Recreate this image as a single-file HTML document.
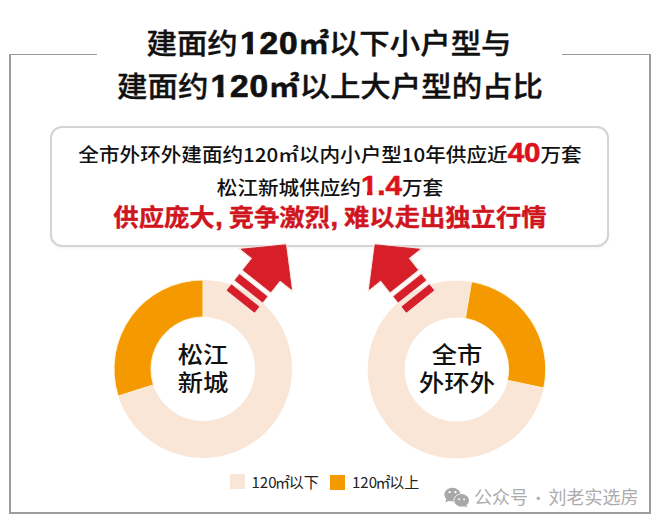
<!DOCTYPE html>
<html lang="zh-CN">
<head>
<meta charset="utf-8">
<style>
html,body{margin:0;padding:0;background:#fff;}
body{width:660px;height:524px;overflow:hidden;position:relative;font-family:"Liberation Sans","Noto Sans CJK SC",sans-serif;}
.abs{position:absolute;}
.ln{position:absolute;background:#9d9d9d;}
.t{position:absolute;left:0;width:660px;text-align:center;white-space:nowrap;}
.title{font-family:"Noto Sans CJK SC",sans-serif;font-weight:500;font-size:28.2px;line-height:30px;color:#111;-webkit-text-stroke:0.35px #111;transform:scaleX(1.08);transform-origin:330px 0;}
.title .n{font-family:"Liberation Sans",sans-serif;font-weight:bold;font-size:31px;letter-spacing:0.8px;-webkit-text-stroke:0.7px #111;margin-left:2px;}
.title .m{font-weight:700;}
.box{position:absolute;left:49.5px;top:125.5px;width:555.8px;height:117.7px;border:2.5px solid #d4d4d4;border-radius:12px;background:#fff;box-shadow:0 1px 3px rgba(0,0,0,0.05);}
.b1{font-family:"Noto Sans CJK SC",sans-serif;font-weight:500;font-size:19.2px;line-height:20px;color:#111;transform:scaleX(1.073);transform-origin:330px 0;}
.red{color:#dc121c;}
.rb{font-family:"Liberation Sans",sans-serif;font-weight:bold;font-size:27.5px;-webkit-text-stroke:0.6px #dc121c;line-height:10px;}
.b3{font-family:"Noto Sans CJK SC",sans-serif;font-weight:700;-webkit-text-stroke:0.35px #cf1520;font-size:23.5px;line-height:25px;color:#cf1520;transform:scaleX(1.078);transform-origin:330px 0;}
.ctr{font-family:"Noto Sans CJK SC",sans-serif;font-weight:500;font-size:22.2px;line-height:28.7px;color:#111;text-align:center;white-space:nowrap;transform:scaleX(1.14);}
.leg{font-family:"Noto Sans CJK SC",sans-serif;font-size:15px;line-height:15px;color:#222;white-space:nowrap;}
.wm{font-family:"Noto Sans CJK SC",sans-serif;font-size:18px;line-height:18px;color:#acacac;white-space:nowrap;}
.cm{display:inline-block;width:13px;text-align:left;text-indent:0.5px;font-family:"Liberation Sans",sans-serif;font-weight:bold;font-size:25px;-webkit-text-stroke:0.6px #cf1520;}
.lm{margin-left:-1.5px;margin-right:-1.2px;position:relative;top:-0.5px;}
.one{display:inline-block;line-height:1em;margin-top:-0.4em;clip-path:polygon(0 0,100% 0,100% 0.70em,0.39em 0.70em,0.39em 100%,0.205em 100%,0.205em 0.70em,0 0.70em);}
</style>
</head>
<body>
<!-- frame -->
<div class="ln" style="left:9.2px;top:53.7px;width:88.3px;height:1.5px;"></div>
<div class="ln" style="left:562px;top:53.7px;width:88.9px;height:1.5px;"></div>
<div class="ln" style="left:9.2px;top:53.7px;width:1.8px;height:459.9px;"></div>
<div class="ln" style="left:649.2px;top:53.7px;width:1.7px;height:459.9px;"></div>
<div class="ln" style="left:9.2px;top:511.8px;width:641.7px;height:1.8px;"></div>

<!-- title -->
<div class="t title" style="top:27px;left:-1.2px;">建面约<span class="n"><span class="one">1</span>20</span><span class="m">㎡</span>以下小户型与</div>
<div class="t title" style="top:70px;">建面约<span class="n"><span class="one">1</span>20</span><span class="m">㎡</span>以上大户型的占比</div>

<!-- box -->
<div class="box"></div>
<div class="t b1" style="top:144px;">全市外环外建面约120㎡以内小户型10年供应近<span class="red rb">40</span>万套</div>
<div class="t b1" style="top:177px;">松江新城供应约<span class="red rb"><span class="one">1</span>.4</span>万套</div>
<div class="t b3" style="top:204px;">供应庞大<span class="cm">,</span>竞争激烈<span class="cm">,</span>难以走出独立行情</div>

<!-- donuts -->
<svg class="abs" style="left:0;top:0" width="660" height="524" viewBox="0 0 660 524">
  <g id="d1">
    <circle cx="203" cy="369" r="70.5" fill="none" stroke="#f9e6d7" stroke-width="37"/>
  </g>
  <g id="d2">
    <circle cx="456.7" cy="369.5" r="70.5" fill="none" stroke="#f9e6d7" stroke-width="37"/>
  </g>
  <path id="o1" fill="#f49900" stroke="#fff3d8" stroke-width="1" d="M118.21 396.06 A89 89 0 0 1 203.00 280.00 L203.00 317.00 A52 52 0 0 0 153.46 384.81 Z"/>
  <path id="o2" fill="#f49900" stroke="#fff3d8" stroke-width="1" d="M471.54 281.75 A89 89 0 0 1 543.76 388.00 L507.56 380.31 A52 52 0 0 0 465.37 318.23 Z"/>
  <!-- arrows -->
  <defs>
    <g id="arw">
      <path d="M0 0 L32 31 L17.5 31 L17.5 46 L-17.5 46 L-17.5 31 L-32 31 Z"/>
      <rect x="-17.5" y="52" width="35" height="7"/>
      <rect x="-17.5" y="65" width="35" height="7"/>
    </g>
  </defs>
  <g fill="#fbe0dd" stroke="#fbe0dd" stroke-width="3" stroke-linejoin="miter">
    <use href="#arw" transform="translate(285.6 244.9) rotate(38.5)"/>
    <use href="#arw" transform="translate(375.2 244.9) rotate(-38.5)"/>
  </g>
  <g fill="#d81f29" stroke="#c41822" stroke-width="0.8" stroke-linejoin="miter">
    <use href="#arw" transform="translate(285.6 244.9) rotate(38.5)"/>
    <use href="#arw" transform="translate(375.2 244.9) rotate(-38.5)"/>
  </g>
</svg>

<div class="abs ctr" style="left:153px;top:338.5px;width:100px;">松江<br>新城</div>
<div class="abs ctr" style="left:406.5px;top:338.5px;width:100px;">全市<br>外环外</div>

<!-- legend -->
<div class="abs" style="left:229.5px;top:474px;width:15px;height:15px;background:#f9e6d7;"></div>
<div class="abs leg" style="left:251.5px;top:474px;">120<span class="lm">㎡</span>以下</div>
<div class="abs" style="left:330px;top:474.5px;width:15px;height:15px;background:#f49900;"></div>
<div class="abs leg" style="left:352px;top:474px;">120<span class="lm">㎡</span>以上</div>

<!-- watermark -->
<svg class="abs" style="left:440px;top:482px" width="34" height="28" viewBox="440 482 34 28">
  <g fill="#a8a8a8">
    <ellipse cx="452.4" cy="494.6" rx="8.1" ry="6.9"/>
    <path d="M446.5 498.5 L445.2 502.6 L450 500.2 Z"/>
  </g>
  <g fill="#a8a8a8" stroke="#fff" stroke-width="1.3" paint-order="stroke">
    <ellipse cx="461.6" cy="500.4" rx="7.4" ry="6.3"/>
  </g>
  <path d="M465.8 504.2 L467.6 507.6 L463 505.8 Z" fill="#a8a8a8"/>
  <g fill="#fff">
    <circle cx="449.6" cy="492.2" r="1.15"/><circle cx="455.4" cy="492.2" r="1.15"/>
    <circle cx="459.1" cy="499.2" r="0.95"/><circle cx="464.1" cy="499.2" r="0.95"/>
  </g>
</svg>
<div class="abs wm" style="left:474px;top:487px;">公众号<span style="display:inline-block;width:20.5px;text-align:center;font-size:15px;">·</span>刘老实选房</div>
</body>
</html>
